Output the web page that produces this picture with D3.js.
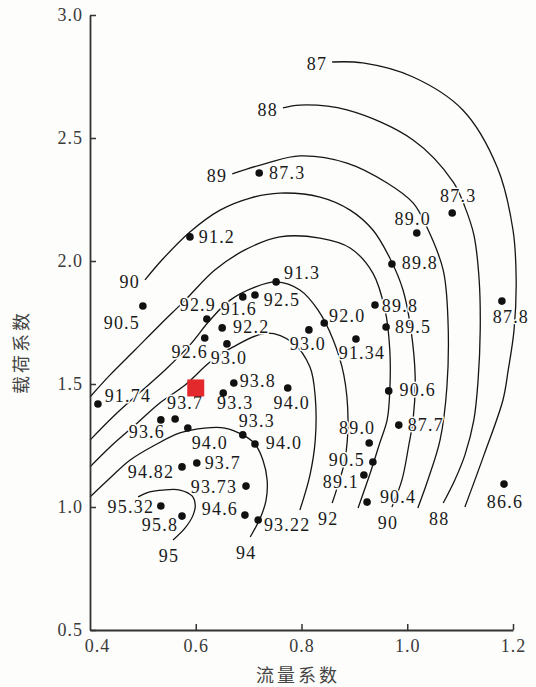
<!DOCTYPE html>
<html>
<head>
<meta charset="utf-8">
<script src="https://cdn.jsdelivr.net/npm/d3@7"></script>
<style>
  body { margin: 0; background: #fdfdfb; }
  svg { display: block; }
  .serif { font-family: "Liberation Serif", "Times New Roman", Times, "DejaVu Serif", serif; }
</style>
</head>
<body>
<svg id="chart" width="536" height="687"></svg>
<script>
// Axis ticks
const flowTicks = [0.4, 0.6, 0.8, 1.0, 1.2];
const loadTicks = [0.5, 1.0, 1.5, 2.0, 2.5, 3.0];

// Efficiency iso-lines: [flow coefficient, load coefficient]
const iso87 = [[0.858,2.809],[0.916,2.805],[1.011,2.748],[1.105,2.614],[1.170,2.382],[1.200,2.126],[1.206,1.923],[1.202,1.720],[1.191,1.557],[1.181,1.435],[1.145,1.211],[1.109,1.000]];
const iso88 = [[0.765,2.622],[0.797,2.634],[0.886,2.614],[1.011,2.492],[1.087,2.321],[1.109,2.220],[1.126,2.106],[1.136,1.923],[1.138,1.720],[1.134,1.516],[1.126,1.354],[1.109,1.211],[1.090,1.110],[1.068,1.016]];
const iso89 = [[0.669,2.354],[0.735,2.398],[0.797,2.427],[0.886,2.398],[0.962,2.317],[1.011,2.236],[1.037,2.138],[1.068,1.963],[1.077,1.760],[1.075,1.488],[1.062,1.272],[1.039,1.110],[1.020,0.996]];
const iso90 = [[0.504,1.923],[0.536,2.004],[0.589,2.118],[0.646,2.207],[0.703,2.256],[0.759,2.276],[0.835,2.260],[0.892,2.207],[0.935,2.126],[0.967,2.012],[0.992,1.882],[1.007,1.720],[1.015,1.528],[1.011,1.354],[1.003,1.252],[0.990,1.110],[0.971,1.000]];
const iso91 = [[0.400,1.447],[0.438,1.537],[0.485,1.638],[0.532,1.740],[0.580,1.841],[0.636,1.963],[0.693,2.045],[0.759,2.098],[0.835,2.093],[0.892,2.053],[0.935,1.951],[0.958,1.801],[0.967,1.638],[0.967,1.472],[0.962,1.354],[0.948,1.260],[0.930,1.138],[0.907,0.996]];
const iso92 = [[0.400,1.272],[0.447,1.374],[0.495,1.467],[0.542,1.557],[0.589,1.659],[0.627,1.760],[0.665,1.841],[0.712,1.894],[0.752,1.915],[0.797,1.882],[0.831,1.801],[0.860,1.679],[0.880,1.537],[0.888,1.354],[0.882,1.191],[0.869,1.089],[0.858,1.016]];
const iso93 = [[0.400,1.163],[0.438,1.244],[0.485,1.333],[0.532,1.423],[0.580,1.496],[0.627,1.589],[0.670,1.650],[0.735,1.707],[0.784,1.667],[0.816,1.569],[0.826,1.447],[0.826,1.272],[0.816,1.130],[0.797,0.988]];
const iso94 = [[0.400,1.041],[0.438,1.118],[0.476,1.191],[0.523,1.252],[0.570,1.301],[0.617,1.321],[0.655,1.321],[0.689,1.293],[0.712,1.256],[0.727,1.191],[0.735,1.110],[0.733,1.028],[0.722,0.955],[0.703,0.878]];
const iso95 = [[0.491,1.041],[0.513,1.061],[0.538,1.069],[0.570,1.069],[0.593,1.045],[0.599,1.008],[0.595,0.967],[0.580,0.915],[0.557,0.866]];

const isoLevels = [87, 88, 89, 90, 91, 92, 93, 94, 95];
const isoLines = [iso87, iso88, iso89, iso90, iso91, iso92, iso93, iso94, iso95];
// Levels named at the open end of a line (upper left) and at its lower end
const startLabelLevels = [87, 88, 89, 90];
const endLabelLevels = [88, 90, 92, 94, 95];

// Measured operating points
const pointFlow = [0.720,1.085,0.589,1.018,0.971,0.500,0.752,0.689,0.712,0.939,0.621,0.650,0.843,0.960,0.814,0.903,0.617,0.659,0.672,0.774,0.652,0.965,0.415,0.534,0.561,0.585,0.689,0.712,0.928,0.935,0.918,0.924,0.984,0.574,0.602,0.695,0.534,0.574,0.693,0.718,1.183,1.179];
const pointLoad = [2.358,2.195,2.098,2.114,1.988,1.817,1.915,1.854,1.862,1.821,1.764,1.728,1.748,1.732,1.720,1.683,1.687,1.663,1.504,1.484,1.463,1.472,1.419,1.354,1.358,1.321,1.293,1.256,1.260,1.183,1.130,1.020,1.333,1.163,1.179,1.085,1.004,0.963,0.967,0.947,1.093,1.837];
const pointEff = ["87.3","87.3","91.2","89.0","89.8","90.5","91.3","91.6","92.5","89.8","92.9","92.2","92.0","89.5","93.0","91.34","92.6","93.0","93.8","94.0","93.3","90.6","91.74","93.6","93.7","94.0","93.3","94.0","89.0","90.5","89.1","90.4","87.7","94.82","93.7","93.73","95.32","95.8","94.6","93.22","86.6","87.8"];
// Label offset from each point, in pixels
const labelShift = [[28,0],[6,-17],[27,0],[-4,-14],[28,-1],[-21,17],[26,-9],[-4,12],[27,5],[25,1],[-9,-14],[29,-1],[23,-7],[27,0],[-1,14],[6,14],[-15,14],[2,14],[24,-2],[4,15],[12,10],[29,-1],[30,-8],[-14,12],[10,-16],[22,15],[14,-14],[29,-1],[-12,-15],[-26,-2],[-23,7],[31,-5],[27,0],[-31,5],[26,0],[-32,1],[-30,1],[-22,9],[-25,-6],[29,5],[1,18],[9,16]];

// Design point
const designFlow = 0.60;
const designLoad = 1.484;

const svg = d3.select("#chart");
const bg = "#fdfdfb";

const x = d3.scaleLinear().domain([0.4, 1.2]).range([90, 513]);
const y = d3.scaleLinear().domain([0.5, 3.0]).range([630, 15]);

// Iso-efficiency lines
const line = d3.line()
  .x(d => x(d[0]))
  .y(d => y(d[1]))
  .curve(d3.curveCatmullRom.alpha(0.5));

svg.append("g")
  .selectAll("path")
  .data(isoLines)
  .join("path")
  .attr("d", line)
  .attr("fill", "none")
  .attr("stroke", "#151515")
  .attr("stroke-width", 1.3);

// Axes
const fmt = d3.format(".1f");
const yAxis = svg.append("g")
  .attr("transform", "translate(90,0)")
  .call(d3.axisLeft(y).tickValues(loadTicks).tickFormat(fmt).tickSize(-6).tickSizeOuter(0).tickPadding(7));
const xAxis = svg.append("g")
  .attr("transform", "translate(0,630)")
  .call(d3.axisBottom(x).tickValues(flowTicks).tickFormat(fmt).tickSize(-6).tickSizeOuter(0).tickPadding(9));

[yAxis, xAxis].forEach(g => {
  g.attr("font-family", null).attr("font-size", null).attr("class", "serif");
  g.select(".domain").attr("stroke", "#333").attr("stroke-width", 1.8);
  g.selectAll(".tick line").attr("stroke", "#333").attr("stroke-width", 1.5);
  g.selectAll(".tick text")
    .attr("fill", "#3a3a3a")
    .style("font-size", "18px")
    .style("letter-spacing", "1px");
});
xAxis.selectAll(".tick").filter(d => d === 0.4).select("text").attr("dx", 7);
xAxis.selectAll(".tick").filter(d => d === 0.4).select("line").remove();

// Axis titles
svg.append("text")
  .attr("x", 298).attr("y", 682)
  .attr("text-anchor", "middle")
  .style("font-family", "'Noto Sans CJK SC', sans-serif")
  .style("font-size", "18px")
  .attr("fill", "#444")
  .style("letter-spacing", "3px")
  .text("流量系数");

svg.append("text")
  .attr("transform", "translate(28,352) rotate(-90)")
  .attr("text-anchor", "middle")
  .style("font-family", "'Noto Sans CJK SC', sans-serif")
  .style("font-size", "18px")
  .attr("fill", "#444")
  .style("letter-spacing", "3px")
  .text("载荷系数");

// Text helper with a background halo so lines break around labels
function haloText(sel) {
  return sel
    .attr("class", "serif")
    .style("font-size", "18px")
    .attr("fill", "#1a1a1a")
    .attr("stroke", bg)
    .attr("stroke-width", 3)
    .attr("paint-order", "stroke")
    .attr("dominant-baseline", "central")
    .style("letter-spacing", "1.2px");
}

// Level labels
const levelOf = lvl => isoLines[isoLevels.indexOf(lvl)];
svg.append("g").selectAll("text")
  .data(startLabelLevels)
  .join("text")
  .attr("x", d => x(levelOf(d)[0][0]) - 5)
  .attr("y", d => y(levelOf(d)[0][1]) + 2)
  .attr("text-anchor", "end")
  .call(haloText)
  .text(d => d);

svg.append("g").selectAll("text")
  .data(endLabelLevels)
  .join("text")
  .attr("x", d => { const p = levelOf(d); return x(p[p.length - 1][0]) - 4; })
  .attr("y", d => { const p = levelOf(d); return y(p[p.length - 1][1]) + 16; })
  .attr("text-anchor", "middle")
  .call(haloText)
  .text(d => d);

// Point labels
const idx = d3.range(pointEff.length);
svg.append("g").selectAll("text")
  .data(idx)
  .join("text")
  .attr("x", i => x(pointFlow[i]) + labelShift[i][0])
  .attr("y", i => y(pointLoad[i]) + labelShift[i][1])
  .attr("text-anchor", "middle")
  .call(haloText)
  .text(i => pointEff[i]);

// Points
svg.append("g").selectAll("circle")
  .data(idx)
  .join("circle")
  .attr("cx", i => x(pointFlow[i]))
  .attr("cy", i => y(pointLoad[i]))
  .attr("r", 3.8)
  .attr("fill", "#111");

// Design point marker
const sq = 17;
svg.append("rect")
  .attr("x", x(designFlow) - sq / 2)
  .attr("y", y(designLoad) - sq / 2)
  .attr("width", sq)
  .attr("height", sq)
  .attr("fill", "#e3292b");
</script>
</body>
</html>
